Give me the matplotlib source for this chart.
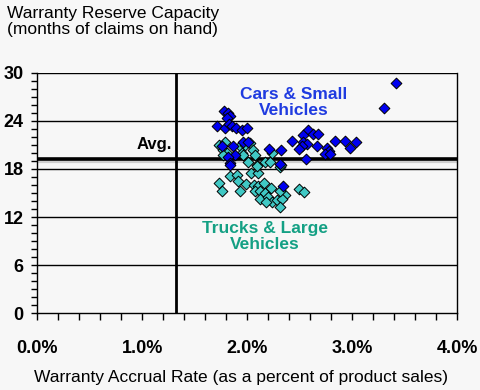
import matplotlib
matplotlib.use("Agg")
import matplotlib.pyplot as plt
from matplotlib.ticker import MultipleLocator, FuncFormatter

plt.rcParams['font.family'] = ['Liberation Sans', 'DejaVu Sans']

# Cars & Small Vehicles (accrual rate %, months of claims)
cars_x = [3.42, 3.30, 1.78, 1.82, 1.84, 1.81, 1.71, 1.79, 1.83, 1.85, 1.89, 1.95, 2.00,
          1.96, 2.01, 1.76, 1.86, 1.88, 1.82, 1.84, 1.84, 2.21, 2.32, 2.31, 2.34, 2.43,
          2.58, 2.53, 2.63, 2.67, 2.53, 2.57, 2.52, 2.49, 2.66, 2.56, 2.76, 2.78, 2.74,
          2.79, 2.84, 2.93, 3.04, 2.98]
cars_y = [28.7, 25.6, 25.2, 25.0, 24.6, 24.3, 23.4, 23.1, 23.6, 23.3, 23.1, 22.9, 23.1,
          21.4, 21.4, 20.8, 20.8, 19.7, 19.5, 18.7, 18.5, 20.5, 20.4, 18.6, 15.9, 21.5,
          22.9, 22.2, 22.4, 22.4, 21.4, 21.1, 20.8, 20.5, 20.8, 19.3, 20.6, 20.2, 19.9,
          19.9, 21.5, 21.5, 21.4, 20.6]

# Trucks & Large Vehicles
trucks_x = [1.73, 1.79, 1.77, 1.81, 1.77, 1.93, 1.98, 2.03, 1.95, 1.96, 2.05, 2.07, 2.01,
            2.09, 2.17, 2.22, 2.24, 2.31, 2.32, 1.84, 1.90, 1.91, 1.73, 1.76, 2.04, 2.10,
            2.09, 1.99, 1.93, 2.06, 2.10, 2.16, 2.07, 2.12, 2.17, 2.12, 2.23, 2.20, 2.24,
            2.18, 2.28, 2.36, 2.33, 2.31, 2.31, 2.49, 2.54]
trucks_y = [21.0, 21.3, 20.4, 20.0, 19.7, 20.8, 21.0, 21.2, 20.0, 19.7, 20.4, 19.7, 18.9,
            18.5, 18.9, 18.9, 20.0, 18.2, 18.5, 17.1, 17.2, 16.5, 16.2, 15.3, 17.5, 17.5,
            18.4, 16.1, 15.3, 16.0, 15.9, 16.3, 15.2, 15.3, 15.0, 14.3, 15.6, 14.5, 13.9,
            13.9, 14.1, 14.8, 14.2, 13.3, 15.2, 15.5, 15.1]

avg_y = 19.24
avg_x_rate = 1.32
y_ticks = [0, 6, 12, 18, 24, 30]
x_ticks = [0.0, 1.0, 2.0, 3.0, 4.0]

BG = '#F7F7F7'
fig = plt.figure(figsize=(4.8, 3.9), dpi=100, facecolor=BG)
ax = fig.add_axes([0.0777, 0.1967, 0.875, 0.6169], facecolor=BG)
ax.set_xlim(0, 4)
ax.set_ylim(0, 30)

for yv in y_ticks[1:]:
    ax.axhline(yv, color='black', lw=1.0, zorder=1)

# average line with shadow
ax.plot([0, 4], [avg_y - 0.25, avg_y - 0.25], color='#CFCFCF', lw=3, zorder=2, solid_capstyle='butt')
ax.plot([0, 4], [avg_y, avg_y], color='black', lw=2.6, zorder=3, solid_capstyle='butt')
ax.axvline(avg_x_rate, color='black', lw=2.0, zorder=3)

ax.scatter(trucks_x, trucks_y, marker='D', s=30, c='#40C8C4', edgecolors='black',
           linewidths=0.7, zorder=4)
ax.scatter(cars_x, cars_y, marker='D', s=30, c='#0000F0', edgecolors='black',
           linewidths=0.7, zorder=5)

ax.text(2.44, 26.3, 'Cars & Small\nVehicles', color='#1F3BE0', fontsize=12.5,
        fontweight='bold', ha='center', va='center', linespacing=1.12, zorder=6)
ax.text(2.17, 9.6, 'Trucks & Large\nVehicles', color='#14A084', fontsize=12.5,
        fontweight='bold', ha='center', va='center', linespacing=1.12, zorder=6)
ax.text(1.28, 21.0, 'Avg.', color='black', fontsize=12, fontweight='bold',
        ha='right', va='center', zorder=6)

ax.spines['top'].set_visible(False)
for s in ['left', 'right', 'bottom']:
    ax.spines[s].set_color('black')
    ax.spines[s].set_linewidth(1.0)

ax.set_xticks(x_ticks)
ax.set_yticks(y_ticks)
ax.xaxis.set_minor_locator(MultipleLocator(0.2))
ax.yaxis.set_minor_locator(MultipleLocator(1))
ax.xaxis.set_major_formatter(FuncFormatter(lambda v, p: f'{v:.1f}%'))
ax.tick_params(axis='both', which='both', direction='out', color='black', width=1.0)
ax.tick_params(axis='y', which='both', length=4, pad=6)
ax.tick_params(axis='x', which='both', length=5, pad=14)
for lab in ax.get_xticklabels() + ax.get_yticklabels():
    lab.set_fontweight('bold')
    lab.set_fontsize(13)

fig.text(0.015, 0.985, 'Warranty Reserve Capacity\n(months of claims on hand)', ha='left',
         va='top', fontsize=12.5, linespacing=1.1)
fig.text(0.503, 0.031, 'Warranty Accrual Rate (as a percent of product sales)', ha='center',
         va='center', fontsize=12.5)

fig.savefig('out.png', dpi=100, facecolor=BG)
